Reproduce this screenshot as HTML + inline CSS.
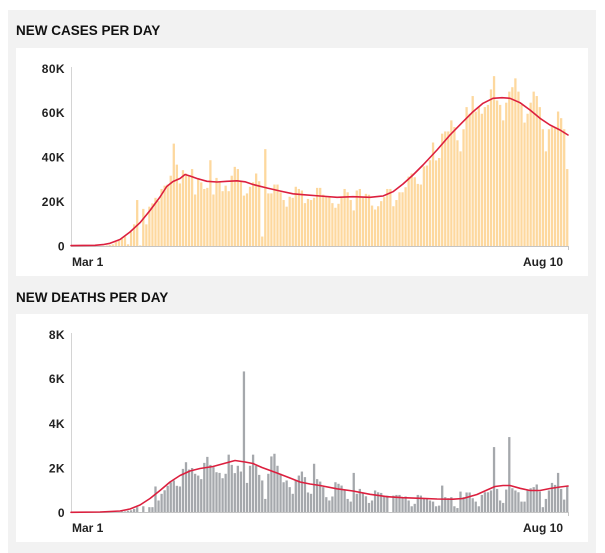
<!DOCTYPE html>
<html><head><meta charset="utf-8"><style>
html,body{margin:0;padding:0;background:#fff;}
body{width:605px;height:553px;position:relative;overflow:hidden;font-family:"Liberation Sans",Arial,sans-serif;}
.panel{position:absolute;left:8px;top:10px;width:588px;height:543px;background:#f2f2f2;}
.box{position:absolute;left:16px;width:572px;height:228px;background:#fff;}
svg{position:absolute;left:0;top:0;}
.t{font-family:"Liberation Sans",Arial,sans-serif;font-weight:bold;}
</style></head><body>
<div class="panel"></div>
<div class="box" style="top:48px"></div>
<div class="box" style="top:314px"></div>
<svg width="605" height="553" viewBox="0 0 605 553">
<text class="t" x="16" y="35" font-size="13.5" fill="#111">NEW CASES PER DAY</text>
<text class="t" x="16" y="302" font-size="13.5" fill="#111">NEW DEATHS PER DAY</text>

<g class="t" font-size="12" fill="#222" text-anchor="end" letter-spacing="0.4">
<text x="65" y="73">80K</text>
<text x="65" y="117">60K</text>
<text x="65" y="161.5">40K</text>
<text x="65" y="206">20K</text>
<text x="65" y="250.5">0</text>
<text x="65" y="339">8K</text>
<text x="65" y="383">6K</text>
<text x="65" y="428">4K</text>
<text x="65" y="472.5">2K</text>
<text x="65" y="517">0</text>
</g>
<g class="t" font-size="12" fill="#222">
<text x="72" y="266">Mar 1</text>
<text x="563" y="266" text-anchor="end">Aug 10</text>
<text x="72" y="532">Mar 1</text>
<text x="563" y="532" text-anchor="end">Aug 10</text>
</g>

<line x1="71.5" y1="67" x2="71.5" y2="246.5" stroke="#d4d4d4" stroke-width="1"/>
<line x1="71.5" y1="333" x2="71.5" y2="512.5" stroke="#d4d4d4" stroke-width="1"/>

<g transform="translate(72,246.5) scale(3.05,-2.2125)" fill="#fdd89e">
<rect x="7" width=".75" height="0.1"/><rect x="8" width=".75" height="0.1"/><rect x="9" width=".75" height="0.2"/><rect x="10" width=".75" height="0.3"/><rect x="11" width=".75" height="0.5"/><rect x="12" width=".75" height="0.7"/><rect x="13" width=".75" height="1"/><rect x="14" width=".75" height="2"/><rect x="15" width=".75" height="2.5"/><rect x="16" width=".75" height="3.5"/><rect x="17" width=".75" height="4.5"/><rect x="18" width=".75" height="1"/><rect x="19" width=".75" height="6.5"/><rect x="20" width=".75" height="10"/><rect x="21" width=".75" height="21"/><rect x="22" width=".75" height="0.5"/><rect x="23" width=".75" height="17"/><rect x="24" width=".75" height="10"/><rect x="25" width=".75" height="18"/><rect x="26" width=".75" height="19.5"/><rect x="27" width=".75" height="22"/><rect x="28" width=".75" height="20.5"/><rect x="29" width=".75" height="26"/><rect x="30" width=".75" height="27.5"/><rect x="31" width=".75" height="28"/><rect x="32" width=".75" height="32"/><rect x="33" width=".75" height="46.5"/><rect x="34" width=".75" height="37"/><rect x="35" width=".75" height="28.5"/><rect x="36" width=".75" height="34.5"/><rect x="37" width=".75" height="33"/><rect x="38" width=".75" height="32"/><rect x="39" width=".75" height="35"/><rect x="40" width=".75" height="23.5"/><rect x="41" width=".75" height="31"/><rect x="42" width=".75" height="29"/><rect x="43" width=".75" height="26"/><rect x="44" width=".75" height="26.5"/><rect x="45" width=".75" height="39"/><rect x="46" width=".75" height="23.5"/><rect x="47" width=".75" height="31"/><rect x="48" width=".75" height="29"/><rect x="49" width=".75" height="25"/><rect x="50" width=".75" height="27.5"/><rect x="51" width=".75" height="25"/><rect x="52" width=".75" height="32"/><rect x="53" width=".75" height="36"/><rect x="54" width=".75" height="35"/><rect x="55" width=".75" height="29.5"/><rect x="56" width=".75" height="23"/><rect x="57" width=".75" height="24"/><rect x="58" width=".75" height="27"/><rect x="59" width=".75" height="29"/><rect x="60" width=".75" height="33"/><rect x="61" width=".75" height="29.5"/><rect x="62" width=".75" height="4.5"/><rect x="63" width=".75" height="44"/><rect x="64" width=".75" height="24"/><rect x="65" width=".75" height="24"/><rect x="66" width=".75" height="28"/><rect x="67" width=".75" height="28"/><rect x="68" width=".75" height="24.5"/><rect x="69" width=".75" height="21"/><rect x="70" width=".75" height="18"/><rect x="71" width=".75" height="22.5"/><rect x="72" width=".75" height="22"/><rect x="73" width=".75" height="27"/><rect x="74" width=".75" height="26"/><rect x="75" width=".75" height="25.3"/><rect x="76" width=".75" height="19.6"/><rect x="77" width=".75" height="21.5"/><rect x="78" width=".75" height="21"/><rect x="79" width=".75" height="22"/><rect x="80" width=".75" height="26.5"/><rect x="81" width=".75" height="26.5"/><rect x="82" width=".75" height="23.4"/><rect x="83" width=".75" height="22.6"/><rect x="84" width=".75" height="22.3"/><rect x="85" width=".75" height="19.6"/><rect x="86" width=".75" height="17.5"/><rect x="87" width=".75" height="19.3"/><rect x="88" width=".75" height="22"/><rect x="89" width=".75" height="26"/><rect x="90" width=".75" height="24.5"/><rect x="91" width=".75" height="21"/><rect x="92" width=".75" height="16.3"/><rect x="93" width=".75" height="25.3"/><rect x="94" width=".75" height="26"/><rect x="95" width=".75" height="22.3"/><rect x="96" width=".75" height="23.8"/><rect x="97" width=".75" height="23.4"/><rect x="98" width=".75" height="18.5"/><rect x="99" width=".75" height="16.7"/><rect x="100" width=".75" height="18.2"/><rect x="101" width=".75" height="20.5"/><rect x="102" width=".75" height="22.3"/><rect x="103" width=".75" height="26"/><rect x="104" width=".75" height="26"/><rect x="105" width=".75" height="18.2"/><rect x="106" width=".75" height="21"/><rect x="107" width=".75" height="24.5"/><rect x="108" width=".75" height="24.5"/><rect x="109" width=".75" height="26.8"/><rect x="110" width=".75" height="31.6"/><rect x="111" width=".75" height="33"/><rect x="112" width=".75" height="31.3"/><rect x="113" width=".75" height="28.3"/><rect x="114" width=".75" height="28"/><rect x="115" width=".75" height="36.2"/><rect x="116" width=".75" height="36.6"/><rect x="117" width=".75" height="39"/><rect x="118" width=".75" height="47"/><rect x="119" width=".75" height="38.9"/><rect x="120" width=".75" height="40"/><rect x="121" width=".75" height="51"/><rect x="122" width=".75" height="52"/><rect x="123" width=".75" height="52"/><rect x="124" width=".75" height="57"/><rect x="125" width=".75" height="54"/><rect x="126" width=".75" height="48"/><rect x="127" width=".75" height="43"/><rect x="128" width=".75" height="53"/><rect x="129" width=".75" height="63"/><rect x="130" width=".75" height="60"/><rect x="131" width=".75" height="68"/><rect x="132" width=".75" height="61"/><rect x="133" width=".75" height="63"/><rect x="134" width=".75" height="60"/><rect x="135" width=".75" height="63"/><rect x="136" width=".75" height="64"/><rect x="137" width=".75" height="71"/><rect x="138" width=".75" height="77"/><rect x="139" width=".75" height="66"/><rect x="140" width=".75" height="64"/><rect x="141" width=".75" height="57"/><rect x="142" width=".75" height="65"/><rect x="143" width=".75" height="70"/><rect x="144" width=".75" height="72"/><rect x="145" width=".75" height="76"/><rect x="146" width=".75" height="70"/><rect x="147" width=".75" height="64"/><rect x="148" width=".75" height="56"/><rect x="149" width=".75" height="60"/><rect x="150" width=".75" height="65"/><rect x="151" width=".75" height="70"/><rect x="152" width=".75" height="68"/><rect x="153" width=".75" height="63"/><rect x="154" width=".75" height="53"/><rect x="155" width=".75" height="43"/><rect x="156" width=".75" height="53"/><rect x="157" width=".75" height="54"/><rect x="158" width=".75" height="54"/><rect x="159" width=".75" height="61"/><rect x="160" width=".75" height="58"/><rect x="161" width=".75" height="53"/><rect x="162" width=".75" height="35"/>
</g>

<g transform="translate(72,512.5) scale(3.05,-22.25)" fill="#a5a8ac">
<rect x="14" width=".75" height="0.02"/><rect x="15" width=".75" height="0.03"/><rect x="16" width=".75" height="0.05"/><rect x="17" width=".75" height="0.05"/><rect x="18" width=".75" height="0.08"/><rect x="19" width=".75" height="0.1"/><rect x="20" width=".75" height="0.16"/><rect x="21" width=".75" height="0.24"/><rect x="23" width=".75" height="0.28"/><rect x="25" width=".75" height="0.24"/><rect x="26" width=".75" height="0.24"/><rect x="27" width=".75" height="1.17"/><rect x="28" width=".75" height="0.54"/><rect x="29" width=".75" height="0.84"/><rect x="30" width=".75" height="1.0"/><rect x="31" width=".75" height="1.2"/><rect x="32" width=".75" height="1.36"/><rect x="33" width=".75" height="1.44"/><rect x="34" width=".75" height="1.2"/><rect x="35" width=".75" height="1.17"/><rect x="36" width=".75" height="1.96"/><rect x="37" width=".75" height="2.26"/><rect x="38" width=".75" height="1.93"/><rect x="39" width=".75" height="2.0"/><rect x="40" width=".75" height="1.74"/><rect x="41" width=".75" height="1.66"/><rect x="42" width=".75" height="1.5"/><rect x="43" width=".75" height="2.23"/><rect x="44" width=".75" height="2.5"/><rect x="45" width=".75" height="2.14"/><rect x="46" width=".75" height="2.04"/><rect x="47" width=".75" height="1.81"/><rect x="48" width=".75" height="1.78"/><rect x="49" width=".75" height="1.54"/><rect x="50" width=".75" height="1.74"/><rect x="51" width=".75" height="2.6"/><rect x="52" width=".75" height="2.14"/><rect x="53" width=".75" height="1.77"/><rect x="54" width=".75" height="2.1"/><rect x="55" width=".75" height="1.84"/><rect x="56" width=".75" height="6.34"/><rect x="57" width=".75" height="1.33"/><rect x="58" width=".75" height="2.1"/><rect x="59" width=".75" height="2.6"/><rect x="60" width=".75" height="2.1"/><rect x="61" width=".75" height="1.69"/><rect x="62" width=".75" height="1.44"/><rect x="63" width=".75" height="0.61"/><rect x="64" width=".75" height="1.74"/><rect x="65" width=".75" height="2.52"/><rect x="66" width=".75" height="2.64"/><rect x="67" width=".75" height="2.1"/><rect x="68" width=".75" height="1.74"/><rect x="69" width=".75" height="1.36"/><rect x="70" width=".75" height="1.44"/><rect x="71" width=".75" height="1.14"/><rect x="72" width=".75" height="0.84"/><rect x="73" width=".75" height="1.44"/><rect x="74" width=".75" height="1.66"/><rect x="75" width=".75" height="1.84"/><rect x="76" width=".75" height="1.59"/><rect x="77" width=".75" height="0.9"/><rect x="78" width=".75" height="0.84"/><rect x="79" width=".75" height="2.19"/><rect x="80" width=".75" height="1.5"/>
<rect x="81" width=".75" height="1.39"/><rect x="82" width=".75" height="1.14"/><rect x="83" width=".75" height="0.69"/><rect x="84" width=".75" height="0.54"/><rect x="85" width=".75" height="0.72"/><rect x="86" width=".75" height="1.36"/><rect x="87" width=".75" height="1.29"/><rect x="88" width=".75" height="1.21"/><rect x="89" width=".75" height="1.03"/><rect x="90" width=".75" height="0.61"/><rect x="91" width=".75" height="0.49"/><rect x="92" width=".75" height="1.78"/><rect x="93" width=".75" height="0.84"/><rect x="94" width=".75" height="1.06"/><rect x="95" width=".75" height="0.87"/><rect x="96" width=".75" height="0.73"/><rect x="97" width=".75" height="0.43"/><rect x="98" width=".75" height="0.54"/><rect x="99" width=".75" height="0.99"/><rect x="100" width=".75" height="0.91"/><rect x="101" width=".75" height="0.88"/><rect x="102" width=".75" height="0.76"/><rect x="103" width=".75" height="0.76"/><rect x="105" width=".75" height="0.76"/><rect x="106" width=".75" height="0.79"/><rect x="107" width=".75" height="0.79"/><rect x="108" width=".75" height="0.69"/><rect x="109" width=".75" height="0.72"/><rect x="110" width=".75" height="0.54"/><rect x="111" width=".75" height="0.28"/><rect x="112" width=".75" height="0.39"/><rect x="113" width=".75" height="0.79"/><rect x="114" width=".75" height="0.76"/><rect x="115" width=".75" height="0.61"/><rect x="116" width=".75" height="0.61"/><rect x="117" width=".75" height="0.54"/><rect x="118" width=".75" height="0.49"/><rect x="119" width=".75" height="0.28"/><rect x="120" width=".75" height="0.31"/><rect x="121" width=".75" height="1.21"/><rect x="122" width=".75" height="0.69"/><rect x="123" width=".75" height="0.64"/><rect x="124" width=".75" height="0.69"/><rect x="125" width=".75" height="0.28"/><rect x="126" width=".75" height="0.2"/><rect x="127" width=".75" height="0.94"/><rect x="128" width=".75" height="0.69"/><rect x="129" width=".75" height="0.9"/><rect x="130" width=".75" height="0.9"/><rect x="131" width=".75" height="0.64"/><rect x="132" width=".75" height="0.49"/><rect x="133" width=".75" height="0.28"/><rect x="134" width=".75" height="0.79"/><rect x="135" width=".75" height="0.91"/><rect x="136" width=".75" height="0.91"/><rect x="137" width=".75" height="0.99"/><rect x="138" width=".75" height="2.94"/><rect x="139" width=".75" height="1.06"/><rect x="140" width=".75" height="0.54"/><rect x="141" width=".75" height="0.43"/><rect x="142" width=".75" height="1.03"/><rect x="143" width=".75" height="3.39"/><rect x="144" width=".75" height="1.09"/><rect x="145" width=".75" height="0.99"/><rect x="146" width=".75" height="0.91"/><rect x="147" width=".75" height="0.49"/><rect x="148" width=".75" height="0.49"/><rect x="149" width=".75" height="0.99"/><rect x="150" width=".75" height="1.09"/><rect x="151" width=".75" height="1.14"/><rect x="152" width=".75" height="1.26"/><rect x="153" width=".75" height="0.94"/><rect x="154" width=".75" height="0.24"/><rect x="155" width=".75" height="0.61"/><rect x="156" width=".75" height="0.99"/><rect x="157" width=".75" height="1.33"/><rect x="158" width=".75" height="1.24"/><rect x="159" width=".75" height="1.78"/><rect x="160" width=".75" height="1.06"/><rect x="161" width=".75" height="0.58"/><rect x="162" width=".75" height="1.18"/>
</g>

<line x1="71" y1="246.5" x2="569" y2="246.5" stroke="#c4c4c4" stroke-width="1"/>
<line x1="568.5" y1="246" x2="568.5" y2="250" stroke="#c4c4c4" stroke-width="1"/>
<line x1="71" y1="512.5" x2="569" y2="512.5" stroke="#c4c4c4" stroke-width="1"/>
<line x1="568.5" y1="512" x2="568.5" y2="516" stroke="#c4c4c4" stroke-width="1"/>

<polyline fill="none" stroke="#dc1f3e" stroke-width="1.6" stroke-linejoin="round" stroke-linecap="round" points="71,245.6 95,245.3 103,244.6 110,243.3 120,239.5 130,232 140,222.7 150,210.5 160,197 166.7,186.5 173,181.5 180,178.5 185,174.5 190,176 197,178.5 207,181.3 217,182 227,181.3 237,180.8 245,181.8 253,184.5 267,188 280,191 293,193.8 303,194.7 320,196 337,197.3 353,196.7 370,197.3 383,196 393,191.7 403,184 413,175 423,165 437,150 450,135 463,121.7 473,111.7 483,103.3 493,98.3 502,97.7 510,98.3 520,102.7 530,110 540,118.3 550,125 560,130 568,135"/>

<polyline fill="none" stroke="#dc1f3e" stroke-width="1.6" stroke-linejoin="round" stroke-linecap="round" points="71,512.3 100,512 120,511 130,509 140,505 150,498.5 160,490.5 170,482 180,475.5 190,471 200,468.5 213,466.5 224,463.5 235,460.5 245,462 253,463.5 262,467.5 277,473 290,478 300,482 310,484 320,485.5 337,488.8 353,491 370,494.3 387,496.7 403,497.7 420,498.3 437,499 453,499.2 463,498.5 477,494.5 487,490 495,486.5 503,485.5 510,485.5 520,488.3 530,490.5 540,490.5 550,488.5 560,487 568,486"/>
</svg>
</body></html>
